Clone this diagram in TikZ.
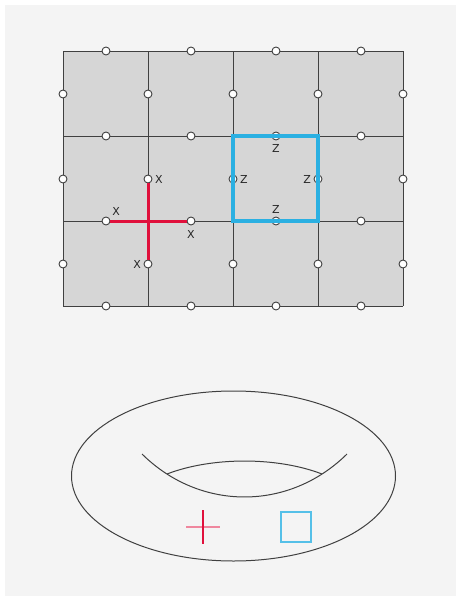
\documentclass[tikz,border=0pt]{standalone}
\usepackage{fontspec}
\setmainfont{DejaVu Sans}
\usetikzlibrary{positioning}
\definecolor{bggray}{HTML}{F4F4F4}
\definecolor{cellgray}{HTML}{D6D6D6}
\definecolor{edgegray}{HTML}{404040}
\definecolor{xred}{HTML}{E0103C}
\definecolor{zblue}{HTML}{2BB0E2}

\begin{document}
\begin{tikzpicture}[x=1pt,y=-1pt,
  qubit/.style={circle,draw=edgegray,fill=white,line width=0.9pt,inner sep=0pt,minimum size=8pt},
  lbl/.style={font=\fontsize{11}{12}\selectfont,inner sep=1pt,text=black!85}]
  \useasboundingbox (0,0) rectangle (456,597);
  \fill[white] (0,0) rectangle (456,597);
  \fill[bggray] (5,5) rectangle (456,596);
  % lattice
  \fill[cellgray] (63,51) rectangle (403,306);
  \foreach \x in {63,148,233,318,403}
    \draw[edgegray,line width=0.9pt] (\x,51)--(\x,306);
  \foreach \y in {51,136,221,306}
    \draw[edgegray,line width=0.9pt] (63,\y)--(403,\y);
  % qubits on horizontal and vertical edges
  \foreach \i in {0,...,3}
    \foreach \j in {0,...,3}
      \node[qubit] (h-\i-\j) at (106+85*\i,51+85*\j) {};
  \foreach \i in {0,...,4}
    \foreach \j in {0,...,2}
      \node[qubit] (v-\i-\j) at (63+85*\i,94+85*\j) {};
  % star operator
  \draw[xred,line width=3pt] (v-1-1.south)--(v-1-2.north);
  \draw[xred,line width=3pt] (h-0-2.east)--(h-1-2.west);
  \node[lbl,right=1.5pt of v-1-1] (x1) {X};
  \node[lbl,above right=1pt and 2pt of h-0-2] (x2) {X};
  \node[lbl,below=4pt of h-1-2] (x3) {X};
  \node[lbl,left=1.5pt of v-1-2] (x4) {X};
  % plaquette operator
  \draw[zblue,line width=3.5pt] (v-2-1 |- h-2-1) rectangle (v-3-1 |- h-2-2);
  \node[lbl,below=3pt of h-2-1] (z1) {Z};
  \node[lbl,right=1.5pt of v-2-1] (z2) {Z};
  \node[lbl,left=1.5pt of v-3-1] (z3) {Z};
  \node[lbl,above=2pt of h-2-2] (z4) {Z};
  % torus
  \draw[edgegray,line width=1pt] (233.5,476) ellipse [x radius=162,y radius=85];
  \draw[edgegray,line width=1pt] (142,454) .. controls (200,511.3) and (289,511.3) .. (347,454);
  \draw[edgegray,line width=1pt] (167,474) .. controls (212,456.7) and (277,456.7) .. (322,474);
  % operators on the torus
  \draw[xred!50,line width=1.1pt] (186,527)--(220,527);
  \draw[xred,line width=1.1pt] (203,510)--(203,544);
  \draw[zblue!80,line width=1.1pt] (281,512) rectangle (311,542);
\end{tikzpicture}
\end{document}
